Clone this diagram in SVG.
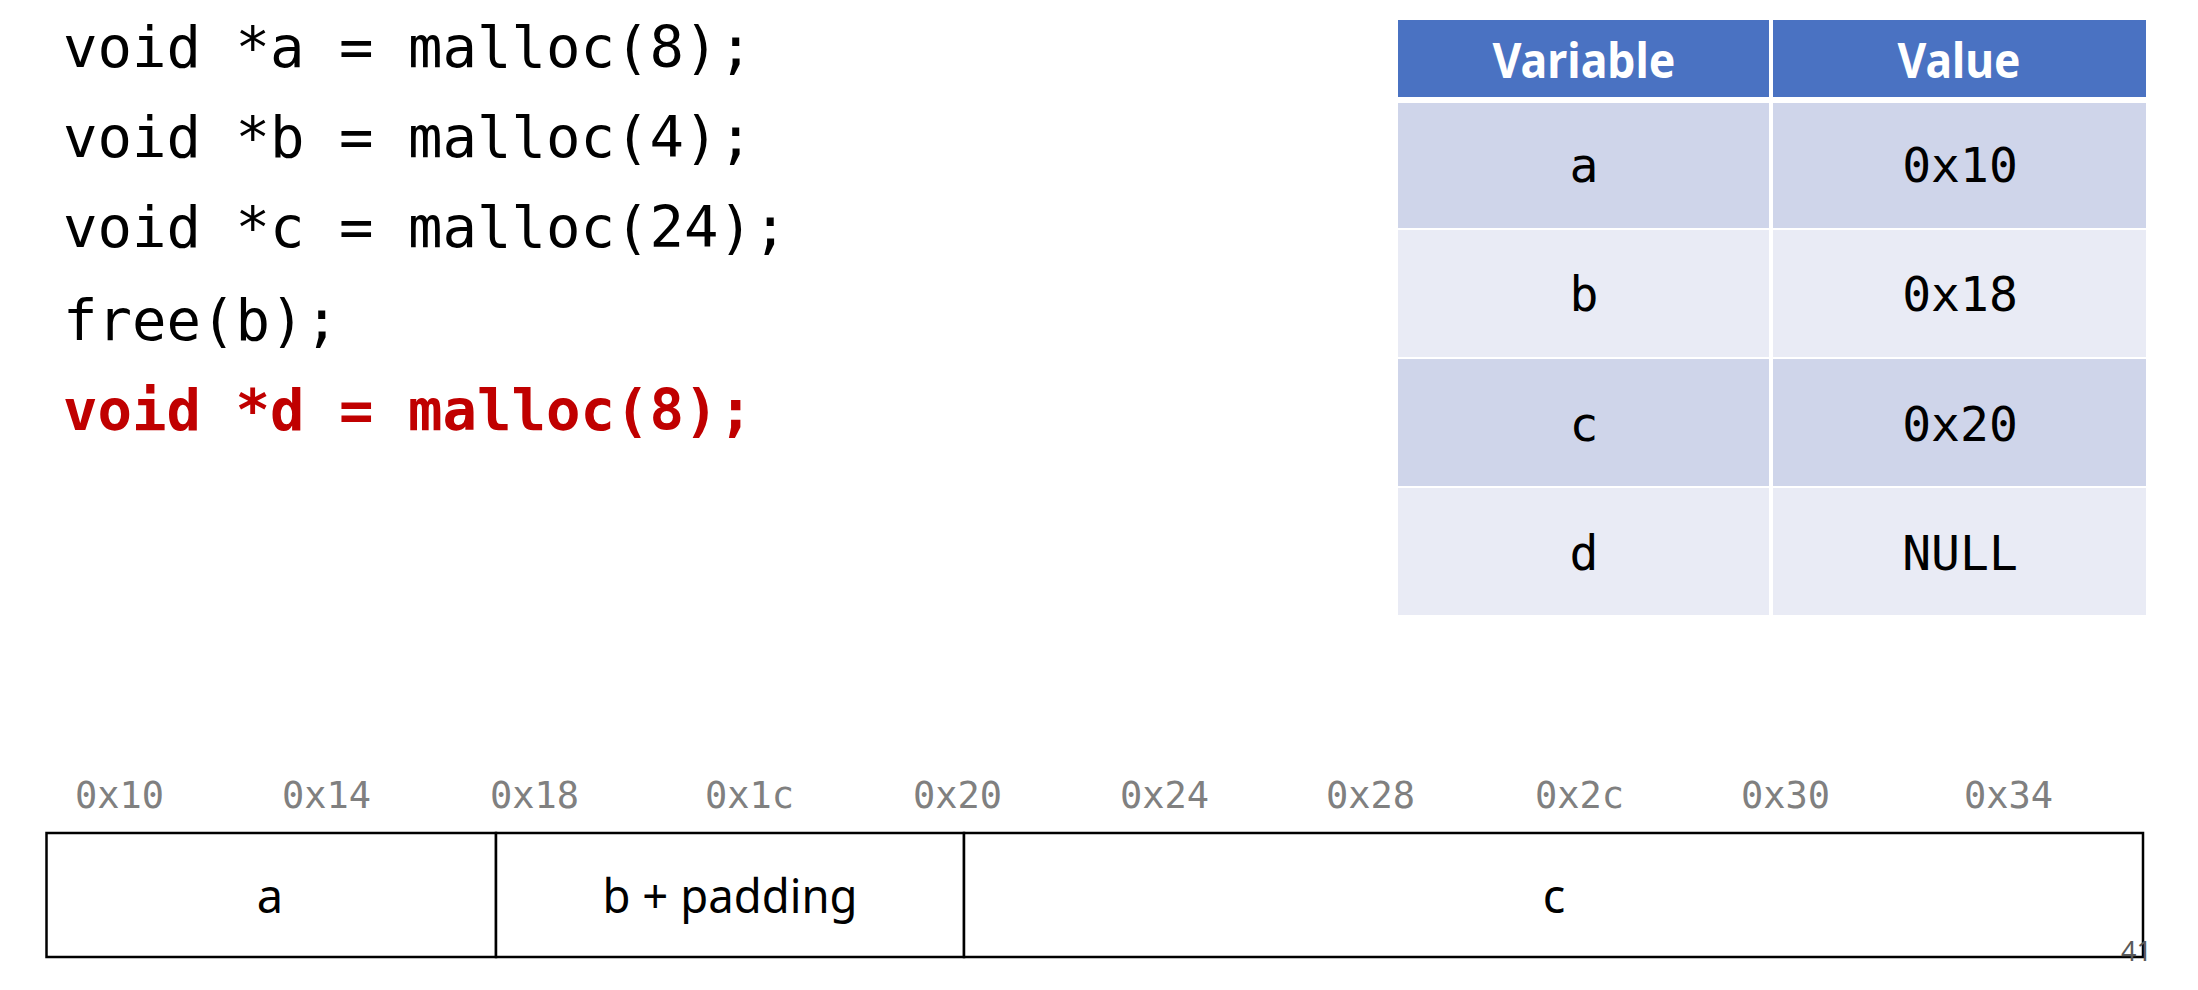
<svg xmlns="http://www.w3.org/2000/svg" width="2198" height="990" viewBox="0 0 2198 990">
<style>
.code{font-family:"DejaVu Sans Mono","Liberation Mono",monospace;font-size:57.3px;fill:#000}
.hl{fill:#C00000;font-weight:bold}
.th{font-family:"Noto Sans","Open Sans",sans-serif;font-weight:bold;font-size:48px;fill:#fff;text-anchor:middle}
.td{font-family:"DejaVu Sans Mono","Liberation Mono",monospace;font-size:48px;fill:#000;text-anchor:middle}
.hd{fill:#4A72C2}
.r1{fill:#CFD5EA}
.r2{fill:#E9EBF5}
.addr{font-family:"DejaVu Sans Mono","Liberation Mono",monospace;font-size:37px;fill:#808080}
.blk{fill:#fff;stroke:#000;stroke-width:2.5}
.lbl{font-family:"Noto Sans","Open Sans",sans-serif;font-size:47px;fill:#000;text-anchor:middle}
.pg{font-family:"Noto Sans","Open Sans",sans-serif;font-size:27px;fill:#595959;text-anchor:end}
</style>
<rect width="2198" height="990" fill="#fff"/>
<g id="code">
<text class="code" x="63" y="67" xml:space="preserve">void *a = malloc(8);</text>
<text class="code" x="63" y="157" xml:space="preserve">void *b = malloc(4);</text>
<text class="code" x="63" y="247" xml:space="preserve">void *c = malloc(24);</text>
<text class="code" x="63" y="340" xml:space="preserve">free(b);</text>
<text class="code hl" x="63" y="430" xml:space="preserve">void *d = malloc(8);</text>
</g>
<g id="table">
<rect class="hd" x="1398" y="20" width="371" height="77"/>
<rect class="hd" x="1773" y="20" width="373" height="77"/>
<rect class="r1" x="1398" y="103" width="371" height="125"/>
<rect class="r1" x="1773" y="103" width="373" height="125"/>
<rect class="r2" x="1398" y="230" width="371" height="127"/>
<rect class="r2" x="1773" y="230" width="373" height="127"/>
<rect class="r1" x="1398" y="359" width="371" height="127"/>
<rect class="r1" x="1773" y="359" width="373" height="127"/>
<rect class="r2" x="1398" y="488" width="371" height="127"/>
<rect class="r2" x="1773" y="488" width="373" height="127"/>
<text class="th" x="1584" y="78" textLength="183" lengthAdjust="spacingAndGlyphs">Variable</text>
<text class="th" x="1959" y="78" textLength="123" lengthAdjust="spacingAndGlyphs">Value</text>
<text class="td" x="1584" y="182">a</text>
<text class="td" x="1960" y="182">0x10</text>
<text class="td" x="1584" y="311">b</text>
<text class="td" x="1960" y="311">0x18</text>
<text class="td" x="1584" y="441">c</text>
<text class="td" x="1960" y="441">0x20</text>
<text class="td" x="1584" y="570">d</text>
<text class="td" x="1960" y="570">NULL</text>
</g>
<g id="addresses">
<text class="addr" x="75" y="808">0x10</text>
<text class="addr" x="282" y="808">0x14</text>
<text class="addr" x="490" y="808">0x18</text>
<text class="addr" x="705" y="808">0x1c</text>
<text class="addr" x="913" y="808">0x20</text>
<text class="addr" x="1120" y="808">0x24</text>
<text class="addr" x="1326" y="808">0x28</text>
<text class="addr" x="1535" y="808">0x2c</text>
<text class="addr" x="1741" y="808">0x30</text>
<text class="addr" x="1964" y="808">0x34</text>
</g>
<g id="block-a">
<rect class="blk" x="46.5" y="833" width="449.5" height="124"/>
<text class="lbl" x="270" y="913">a</text>
</g>
<g id="block-b">
<rect class="blk" x="496" y="833" width="468" height="124"/>
<text class="lbl" x="730" y="913" textLength="255" lengthAdjust="spacingAndGlyphs">b + padding</text>
</g>
<g id="block-c">
<rect class="blk" x="964" y="833" width="1179" height="124"/>
<text class="lbl" x="1554" y="913">c</text>
</g>
<g id="connectors"></g>
<text class="pg" x="2152" y="961">41</text>
</svg>
